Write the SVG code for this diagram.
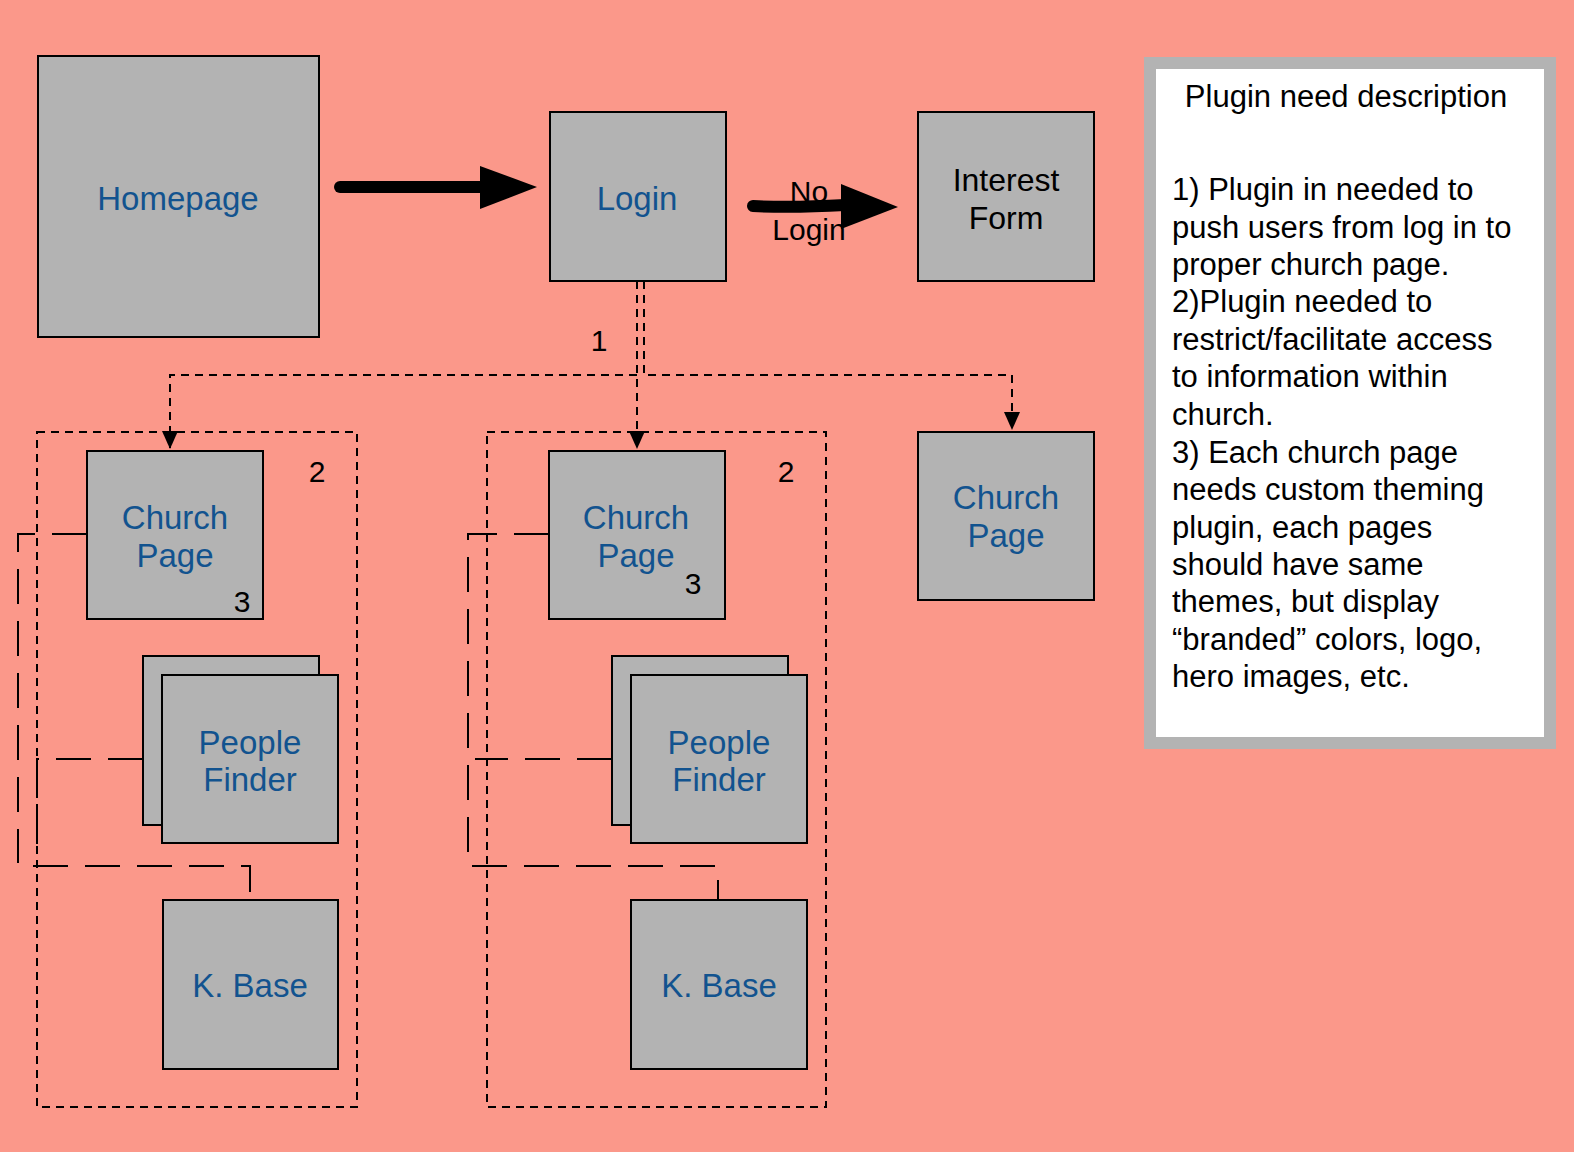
<svg xmlns="http://www.w3.org/2000/svg" width="1574" height="1152" viewBox="0 0 1574 1152">
<defs>
<style>
.node rect{fill:#b3b3b3;stroke:#000;stroke-width:2}
.lbl{font-family:"Liberation Sans",Arial,sans-serif;font-size:33px;fill:#12538f;text-anchor:middle}
.num{font-family:"Liberation Sans",Arial,sans-serif;font-size:30px;fill:#000;text-anchor:middle}
.desc{font-family:"Liberation Sans",Arial,sans-serif;font-size:31px;fill:#000}
.box{fill:none;stroke:#000;stroke-width:2;stroke-dasharray:8,6}
.thin{fill:none;stroke:#000;stroke-width:2;stroke-dasharray:8,6}
.long{fill:none;stroke:#000;stroke-width:2;stroke-dasharray:35,17}
.thick{fill:none;stroke:#000;stroke-width:12;stroke-linecap:round}
</style>
<marker id="ah" markerUnits="userSpaceOnUse" markerWidth="18" markerHeight="20" refX="18" refY="8" orient="auto">
<path d="M0,0 L18,8 L0,16 Z" fill="#000"/>
</marker>
</defs>
<rect width="1574" height="1152" fill="#fb988a"/>

<g id="containers">
<rect class="box" x="37" y="432" width="320" height="675"/>
<rect class="box" x="487" y="432" width="339" height="675"/>
</g>

<g id="connectors">
<line class="thick" x1="340" y1="187" x2="484" y2="187"/>
<polygon points="480,166 537,187 480,209" fill="#000"/>
<path class="thick" d="M753,206 Q792,208 845,205"/>
<polygon points="841,184 898,207 841,229" fill="#000"/>
<path class="thin" d="M637,281 V449" marker-end="url(#ah)"/>
<path class="thin" d="M644,281 V375 H1012 V430" marker-end="url(#ah)"/>
<path class="thin" d="M637,375 H170 V449" marker-end="url(#ah)"/>
<path class="long" d="M87,534 H18 V863"/>
<path class="long" d="M143,759 H37 V866"/>
<path class="long" d="M33,866 H250 V892"/>
<path class="long" d="M549,534 H468 V853"/>
<path class="long" d="M612,759 H475"/>
<path class="long" d="M472,866 H715"/>
<line x1="718" y1="880" x2="718" y2="900" stroke="#000" stroke-width="2"/>
</g>

<g id="homepage" class="node">
<rect x="38" y="56" width="281" height="281"/>
<text class="lbl" x="178" y="210">Homepage</text>
</g>
<g id="login" class="node">
<rect x="550" y="112" width="176" height="169"/>
<text class="lbl" x="637" y="210">Login</text>
</g>
<g id="interest-form" class="node">
<rect x="918" y="112" width="176" height="169"/>
<text class="num" style="font-size:32px" x="1006" y="191">Interest</text>
<text class="num" style="font-size:32px" x="1006" y="229">Form</text>
</g>
<g id="church-page-right" class="node">
<rect x="918" y="432" width="176" height="168"/>
<text class="lbl" x="1006" y="509">Church</text>
<text class="lbl" x="1006" y="547">Page</text>
</g>
<g id="church-page-left" class="node">
<rect x="87" y="451" width="176" height="168"/>
<text class="lbl" x="175" y="529">Church</text>
<text class="lbl" x="175" y="567">Page</text>
</g>
<g id="church-page-mid" class="node">
<rect x="549" y="451" width="176" height="168"/>
<text class="lbl" x="636" y="529">Church</text>
<text class="lbl" x="636" y="567">Page</text>
</g>
<g id="people-finder-left" class="node">
<rect x="143" y="656" width="176" height="169"/>
<rect x="162" y="675" width="176" height="168"/>
<text class="lbl" x="250" y="754">People</text>
<text class="lbl" x="250" y="791">Finder</text>
</g>
<g id="people-finder-mid" class="node">
<rect x="612" y="656" width="176" height="169"/>
<rect x="631" y="675" width="176" height="168"/>
<text class="lbl" x="719" y="754">People</text>
<text class="lbl" x="719" y="791">Finder</text>
</g>
<g id="kbase-left" class="node">
<rect x="163" y="900" width="175" height="169"/>
<text class="lbl" x="250" y="997">K. Base</text>
</g>
<g id="kbase-mid" class="node">
<rect x="631" y="900" width="176" height="169"/>
<text class="lbl" x="719" y="997">K. Base</text>
</g>

<g id="labels">
<text class="num" x="809" y="202">No</text>
<text class="num" x="809" y="240">Login</text>
<text class="num" x="599" y="351">1</text>
<text class="num" x="317" y="482">2</text>
<text class="num" x="786" y="482">2</text>
<text class="num" x="242" y="612">3</text>
<text class="num" x="693" y="594">3</text>
</g>

<g id="description">
<rect x="1150" y="63" width="400" height="680" fill="#fff" stroke="#b3b3b3" stroke-width="12"/>
<text class="desc" x="1346" y="107" text-anchor="middle">Plugin need description</text>
<text class="desc" x="1172" y="200">1) Plugin in needed to</text>
<text class="desc" x="1172" y="238">push users from log in to</text>
<text class="desc" x="1172" y="275">proper church page.</text>
<text class="desc" x="1172" y="312">2)Plugin needed to</text>
<text class="desc" x="1172" y="350">restrict/facilitate access</text>
<text class="desc" x="1172" y="387">to information within</text>
<text class="desc" x="1172" y="425">church.</text>
<text class="desc" x="1172" y="463">3) Each church page</text>
<text class="desc" x="1172" y="500">needs custom theming</text>
<text class="desc" x="1172" y="538">plugin, each pages</text>
<text class="desc" x="1172" y="575">should have same</text>
<text class="desc" x="1172" y="612">themes, but display</text>
<text class="desc" x="1172" y="650">“branded” colors, logo,</text>
<text class="desc" x="1172" y="687">hero images, etc.</text>
</g>
</svg>
